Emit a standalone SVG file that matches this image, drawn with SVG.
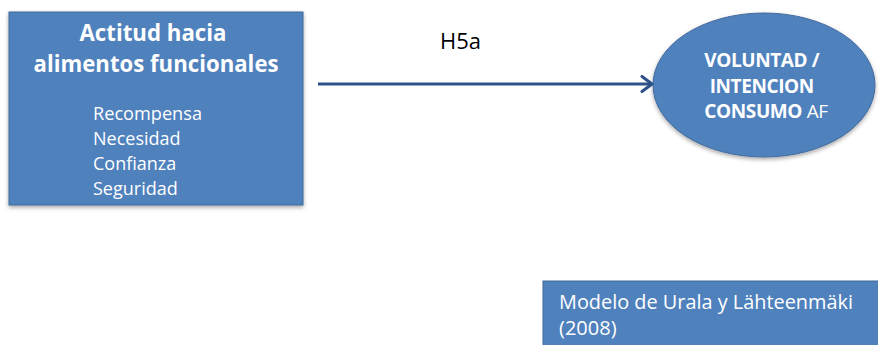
<svg xmlns="http://www.w3.org/2000/svg" width="878" height="345" viewBox="0 0 878 345">
  <style>
    .shape { fill: #4f81bd; stroke: #41699c; stroke-width: 1; }
    .head { font-family: "Open Sans", "Liberation Sans", sans-serif; font-weight: bold; fill: #ffffff; }
    .body { font-family: "Open Sans", "Liberation Sans", sans-serif; fill: #ffffff; }
    .label { font-family: "Open Sans", "Liberation Sans", sans-serif; fill: #000000; }
    .link { stroke: #2d5287; stroke-width: 3; fill: none; }
  </style>
  <defs>
    <filter id="shadow" x="-10%" y="-10%" width="120%" height="130%">
      <feGaussianBlur in="SourceAlpha" stdDeviation="2"/>
      <feOffset dx="0" dy="2" result="b"/>
      <feComponentTransfer><feFuncA type="linear" slope="0.35"/></feComponentTransfer>
      <feMerge><feMergeNode/><feMergeNode in="SourceGraphic"/></feMerge>
    </filter>
    <marker id="chevron" markerWidth="14" markerHeight="18" refX="12" refY="9" orient="auto" markerUnits="userSpaceOnUse">
      <path d="M2,1.5 L12,9 L2,16.5" fill="none" stroke="#2d5287" stroke-width="3" stroke-linecap="round" stroke-linejoin="round"/>
    </marker>
  </defs>

  <rect width="878" height="345" fill="#ffffff"/>

  <!-- attitude box -->
  <g id="actitud">
    <rect class="shape" x="9" y="12" width="294" height="193" filter="url(#shadow)"/>
    <text class="head" font-size="23" text-anchor="middle">
      <tspan x="156" y="41" textLength="147" lengthAdjust="spacingAndGlyphs">Actitud hacia</tspan>
      <tspan x="156" y="72" textLength="245" lengthAdjust="spacingAndGlyphs">alimentos funcionales</tspan>
    </text>
    <text class="body" font-size="18">
      <tspan x="93" y="120" textLength="109" lengthAdjust="spacingAndGlyphs">Recompensa</tspan>
      <tspan x="93" y="145">Necesidad</tspan>
      <tspan x="93" y="170">Confianza</tspan>
      <tspan x="93" y="195">Seguridad</tspan>
    </text>
  </g>

  <!-- intention ellipse -->
  <g id="voluntad">
    <ellipse class="shape" cx="764" cy="85" rx="111" ry="72" filter="url(#shadow)"/>
    <text class="head" font-size="19" letter-spacing="-0.4" text-anchor="middle">
      <tspan x="764" y="67">VOLUNTAD /</tspan>
      <tspan x="764" y="93">INTENCION</tspan>
      <tspan x="766" y="118">CONSUMO <tspan font-weight="normal">AF</tspan></tspan>
    </text>
  </g>

  <!-- source note -->
  <g id="fuente">
    <rect class="shape" x="543" y="281" width="345" height="80"/>
    <text class="body" font-size="20">
      <tspan x="559" y="309" textLength="294" lengthAdjust="spacingAndGlyphs">Modelo de Urala y Lähteenmäki</tspan>
      <tspan x="559" y="335">(2008)</tspan>
    </text>
  </g>

  <!-- connectors -->
  <g id="connectors">
    <line class="link" x1="318" y1="84" x2="652" y2="84" marker-end="url(#chevron)"/>
    <text class="label" font-size="21" x="440" y="49" textLength="41" lengthAdjust="spacingAndGlyphs">H5a</text>
  </g>
</svg>
